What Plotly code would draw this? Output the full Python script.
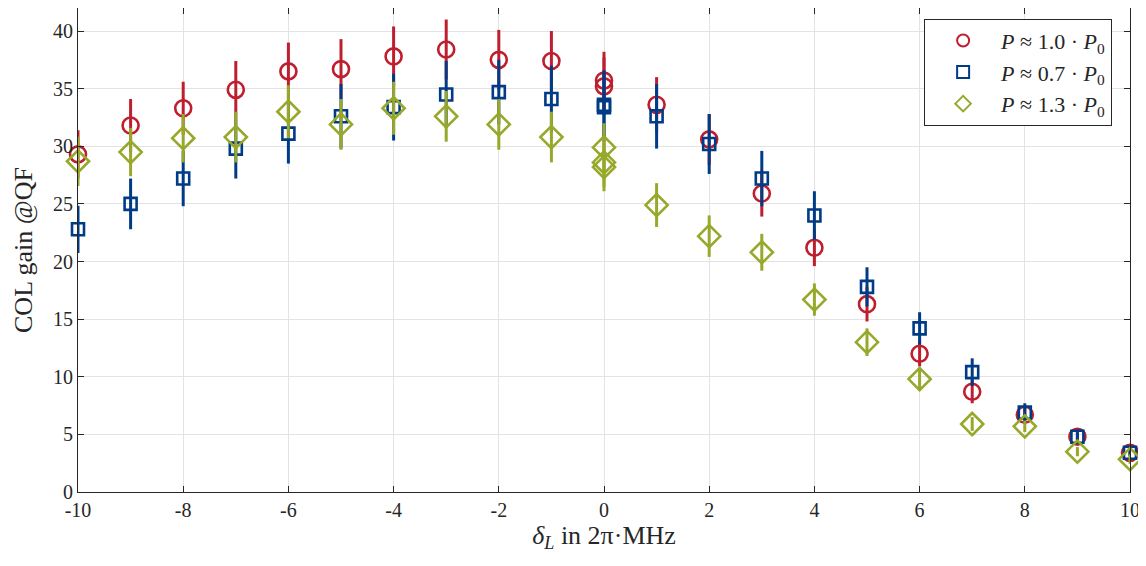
import plotly.graph_objects as go

# detuning values (2pi*MHz); repeated 0 entries are repeated measurements
red_x = [-10, -9, -8, -7, -6, -5, -4, -3, -2, -1, 0, 0, 1, 2, 3, 4, 5, 6, 7, 8, 9, 10]
red_y = [29.3, 31.8, 33.3, 34.9, 36.5, 36.7, 37.8, 38.4, 37.5, 37.4, 35.7, 35.2,
         33.6, 30.6, 25.9, 21.2, 16.3, 12.0, 8.7, 6.7, 4.8, 3.4]
red_err = [2.1, 2.3, 2.3, 2.5, 2.5, 2.6, 2.6, 2.6, 2.6, 2.6, 2.5, 2.5,
           2.4, 2.2, 2.0, 1.6, 1.5, 1.1, 1.0, 0.6, 0.4, 0.3]

blue_x = [-10, -9, -8, -7, -6, -5, -4, -3, -2, -1, 0, 0, 1, 2, 3, 4, 5, 6, 7, 8, 9, 10]
blue_y = [22.8, 25.0, 27.2, 29.8, 31.1, 32.6, 33.4, 34.5, 34.7, 34.1, 33.6, 33.4,
          32.6, 30.2, 27.2, 24.0, 17.8, 14.2, 10.4, 6.9, 4.8, 3.4]
blue_err = [2.05, 2.2, 2.4, 2.6, 2.6, 2.8, 2.9, 2.9, 2.8, 2.9, 3.0, 3.0,
            2.8, 2.6, 2.4, 2.1, 1.7, 1.4, 1.2, 0.8, 0.4, 0.3]

green_x = [-10, -9, -8, -7, -6, -5, -4, -3, -2, -1, 0, 0, 0, 1, 2, 3, 4, 5, 6, 7, 8, 9, 10]
green_y = [28.7, 29.5, 30.7, 30.8, 33.0, 31.9, 33.3, 32.6, 31.9, 30.8, 29.9, 28.6, 28.2,
           24.9, 22.2, 20.8, 16.7, 13.0, 9.8, 5.9, 5.7, 3.5, 2.85]
green_err = [2.15, 2.1, 2.1, 2.2, 2.3, 2.2, 2.3, 2.2, 2.2, 2.2, 2.1, 2.1, 2.1,
             1.9, 1.8, 1.6, 1.4, 1.2, 1.0, 0.6, 0.5, 0.4, 0.4]

x_ticks = [-10, -8, -6, -4, -2, 0, 2, 4, 6, 8, 10]
x_ticktext = ["-10", "-8", "-6", "-4", "-2", "0", "2", "4", "6", "8", "10"]
y_ticks = [0, 5, 10, 15, 20, 25, 30, 35, 40]

series = [
    ("<i>P</i> ≈ 1.0 · <i>P</i><sub>0</sub>", red_x, red_y, red_err, "#BE1E2D", "circle-open", 16),
    ("<i>P</i> ≈ 0.7 · <i>P</i><sub>0</sub>", blue_x, blue_y, blue_err, "#003B87", "square-open", 12),
    ("<i>P</i> ≈ 1.3 · <i>P</i><sub>0</sub>", green_x, green_y, green_err, "#97A82A", "diamond-open", 17),
]

FONT = "Liberation Serif"

fig = go.Figure()
for name, xs, ys, errs, color, symbol, size in series:
    fig.add_trace(go.Scatter(
        x=xs, y=ys, mode="markers", name=name, cliponaxis=False,
        marker=dict(symbol=symbol, size=size, color=color,
                    line=dict(width=2.6, color=color)),
        error_y=dict(type="data", array=errs, visible=True,
                     color=color, thickness=3, width=0),
    ))

axis_common = dict(
    showline=True, linecolor="#262626", linewidth=1, mirror="ticks",
    ticks="inside", ticklen=6, tickcolor="#262626",
    showgrid=True, gridcolor="#E3E3E3", gridwidth=1,
    zeroline=False, tickfont=dict(family=FONT, size=20, color="#262626"),
)

# the page body adds an 8px offset, so the figure is 8px smaller than the window
fig.update_layout(
    width=1138, height=558,
    margin=dict(l=70, r=16, t=0, b=74, autoexpand=False),
    paper_bgcolor="white", plot_bgcolor="white",
    font=dict(family=FONT, color="#262626"),
    showlegend=True,
    legend=dict(
        x=0.983, y=0.978, xanchor="right", yanchor="top",
        bgcolor="white", bordercolor="#262626", borderwidth=1,
        font=dict(family=FONT, size=22, color="#262626"),
        itemsizing="constant", itemwidth=66,
        tracegroupgap=0,
    ),
    xaxis=dict(
        range=[-10, 10], tickvals=x_ticks, ticktext=x_ticktext,
        title=dict(text="<i>δ<sub>L</sub></i> in 2π·MHz",
                   font=dict(family=FONT, size=26), standoff=4),
        **axis_common,
    ),
    yaxis=dict(
        range=[0, 42], tickvals=y_ticks,
        title=dict(text="COL gain @QF", font=dict(family=FONT, size=26), standoff=12),
        **axis_common,
    ),
)

fig.write_html("out.html")
